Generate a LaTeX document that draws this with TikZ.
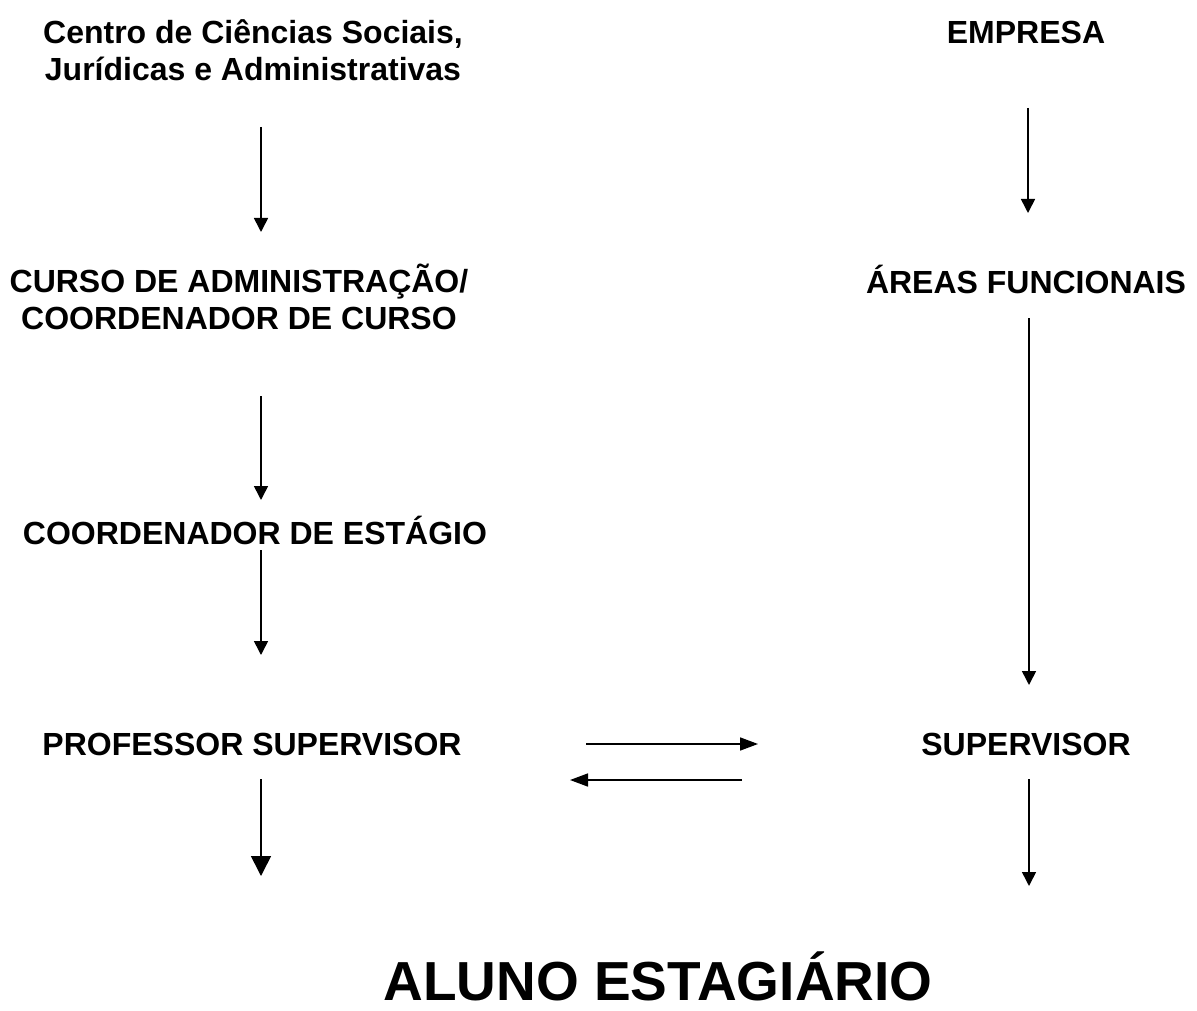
\documentclass[tikz,border=0pt]{standalone}
\usepackage{fontspec}
\setmainfont{Liberation Sans}
\usetikzlibrary{arrows.meta}
\begin{document}
\begin{tikzpicture}[x=1pt,y=-1pt,
  lbl/.style={font=\fontsize{32}{37}\selectfont\bfseries, inner sep=0pt, align=center},
  big/.style={font=\fontsize{55}{60}\selectfont\bfseries, inner sep=0pt},
  arr/.style={line width=1.6pt, -{Triangle[length=14pt,width=14pt]}},
  arrbig/.style={line width=1.6pt, -{Triangle[length=20pt,width=20pt]}},
  harr/.style={line width=1.6pt, -{Triangle[length=18pt,width=13pt]}}]
\useasboundingbox (0,0) rectangle (1197,1011);
\node[lbl] (ccs) at (253,50) {Centro de Ciências Sociais,\\Jurídicas e Administrativas};
\node[lbl] (emp) at (1026,32) {EMPRESA};
\node[lbl] (curso) at (239,297) {CURSO DE ADMINISTRAÇÃO/\\COORDENADOR DE CURSO};
\node[lbl] (areas) at (1026,279) {ÁREAS FUNCIONAIS};
\node[lbl] (coord) at (255,530) {COORDENADOR DE ESTÁGIO};
\node[lbl] (prof) at (252,744) {PROFESSOR SUPERVISOR};
\node[lbl] (sup) at (1026,744) {SUPERVISOR};
\node[big] (aluno) at (658,976) {ALUNO ESTAGIÁRIO};
\coordinate (a1s) at (261,127); \coordinate (a1e) at (261,232);
\coordinate (b1s) at (1028,108); \coordinate (b1e) at (1028,213);
\coordinate (a2s) at (261,396); \coordinate (a2e) at (261,500);
\coordinate (b2s) at (1029,318); \coordinate (b2e) at (1029,685);
\coordinate (a3s) at (261,550); \coordinate (a3e) at (261,655);
\coordinate (a4s) at (261,779); \coordinate (a4e) at (261,876);
\coordinate (b4s) at (1029,779); \coordinate (b4e) at (1029,886);
\coordinate (hrs) at (586,744); \coordinate (hre) at (758,744);
\coordinate (hls) at (742,780); \coordinate (hle) at (570,780);
\draw[arr] (a1s) -- (a1e);
\draw[arr] (b1s) -- (b1e);
\draw[arr] (a2s) -- (a2e);
\draw[arr] (b2s) -- (b2e);
\draw[arr] (a3s) -- (a3e);
\draw[arrbig] (a4s) -- (a4e);
\draw[arr] (b4s) -- (b4e);
\draw[harr] (hrs) -- (hre);
\draw[harr] (hls) -- (hle);
\end{tikzpicture}
\end{document}
